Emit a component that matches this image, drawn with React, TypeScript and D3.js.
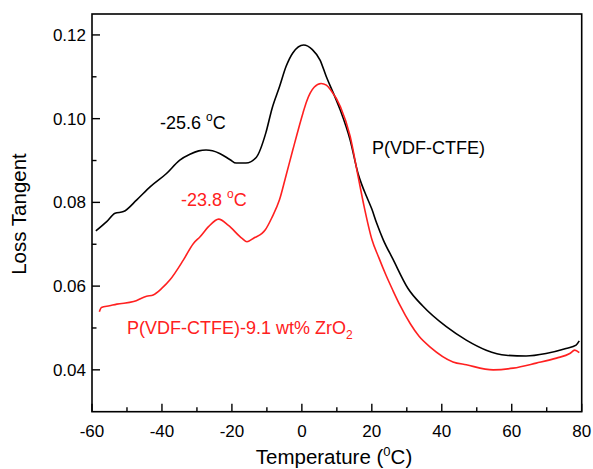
import React from "react";
import * as d3 from "d3";

// Data
const pureTemps = [-58.9, -55.8, -53.4, -51, -47.2, -43.4, -38.7, -34.9, -32, -29.5, -27.4, -23.5, -20.5, -18.8, -16, -13, -10.3, -8.5, -6.4, -4.5, -2.6, 0.5, 3, 5.2, 7, 9, 11, 13.8, 16.1, 17.1, 18.5, 20, 21.4, 23.3, 26, 30.3, 34.5, 41.3, 47, 52.7, 58.4, 64.1, 69.8, 75.5, 78.4, 79.3];
const pureValues = [0.0732, 0.0754, 0.0774, 0.0778, 0.0806, 0.0837, 0.0869, 0.0901, 0.0915, 0.0923, 0.0925, 0.0917, 0.0902, 0.0894, 0.0894, 0.0908, 0.0966, 0.1025, 0.1076, 0.1125, 0.1157, 0.1176, 0.1165, 0.114, 0.110, 0.1061, 0.102, 0.0949, 0.0868, 0.0843, 0.0814, 0.0784, 0.075, 0.071, 0.0665, 0.0595, 0.0553, 0.0503, 0.0471, 0.0447, 0.0435, 0.0433, 0.0439, 0.0451, 0.0459, 0.0469];

const compTemps = [-57.9, -57.3, -55, -52.9, -48.1, -44.4, -42.5, -40, -37.7, -33.9, -31, -29.1, -26.7, -23.8, -21, -17.1, -15.7, -13.5, -11.4, -10.5, -8.5, -6.4, -4.5, -2.6, 0.3, 1.3, 3.5, 5.5, 7, 8.3, 11, 13.8, 16.1, 17.8, 20, 22, 24, 26, 28, 31, 33.5, 36.6, 43.2, 47, 54.7, 60.4, 67, 72.8, 76.6, 78, 79.3];
const compValues = [0.0539, 0.0549, 0.0553, 0.0557, 0.0563, 0.0576, 0.0579, 0.0595, 0.0615, 0.0662, 0.0702, 0.0718, 0.0742, 0.076, 0.0745, 0.0714, 0.0706, 0.0716, 0.0726, 0.0734, 0.0765, 0.0806, 0.0865, 0.0925, 0.1013, 0.104, 0.1075, 0.1084, 0.108, 0.1068, 0.1029, 0.0958, 0.0861, 0.079, 0.0712, 0.0668, 0.0627, 0.059, 0.0555, 0.051, 0.048, 0.0455, 0.0419, 0.0412, 0.04, 0.0404, 0.0416, 0.0428, 0.0439, 0.0447, 0.0441];

const xTicks = [-60, -40, -20, 0, 20, 40, 60, 80];
const xMinorTicks = [-50, -30, -10, 10, 30, 50, 70];
const yTicks = [0.04, 0.06, 0.08, 0.1, 0.12];
const yMinorTicks = [0.05, 0.07, 0.09, 0.11];

const W = 593;
const H = 469;
const left = 92;
const right = 581.7;
const top = 14;
const bottom = 411.7;
const FONT = "'Liberation Sans', Arial, Helvetica, sans-serif";
const RED = "#ff2020";

export default function App() {
  const x = d3.scaleLinear().domain([-60, 80]).range([left, right]);
  const y = d3.scaleLinear().domain([0.03, 0.125]).range([bottom, top]);

  const line = d3
    .line<[number, number]>()
    .x((d) => x(d[0]))
    .y((d) => y(d[1]))
    .curve(d3.curveMonotoneX);

  const pure = pureTemps.map((t, i) => [t, pureValues[i]] as [number, number]);
  const comp = compTemps.map((t, i) => [t, compValues[i]] as [number, number]);

  return (
    <svg
      width={W}
      height={H}
      style={{ position: "fixed", left: 0, top: 0, background: "#fff" }}
      fontFamily={FONT}
    >
      <rect x={0} y={0} width={W} height={H} fill="#fff" />
      {/* curves */}
      <path d={line(pure) || ""} fill="none" stroke="#000" strokeWidth={1.6} />
      <path d={line(comp) || ""} fill="none" stroke={RED} strokeWidth={1.6} />

      {/* frame */}
      <rect x={left} y={top} width={right - left} height={bottom - top} fill="none" stroke="#000" strokeWidth={1.6} />

      {/* x ticks */}
      {xTicks.map((t) => (
        <g key={"xt" + t}>
          <line x1={x(t)} x2={x(t)} y1={bottom} y2={bottom - 8} stroke="#000" strokeWidth={1.4} />
          <text x={x(t)} y={437} textAnchor="middle" fontSize={17} fill="#000">
            {t}
          </text>
        </g>
      ))}
      {xMinorTicks.map((t) => (
        <line key={"xm" + t} x1={x(t)} x2={x(t)} y1={bottom} y2={bottom - 4.5} stroke="#000" strokeWidth={1.4} />
      ))}

      {/* y ticks */}
      {yTicks.map((t) => (
        <g key={"yt" + t}>
          <line x1={left} x2={left + 8} y1={y(t)} y2={y(t)} stroke="#000" strokeWidth={1.4} />
          <text x={86} y={y(t) + 6} textAnchor="end" fontSize={17} fill="#000">
            {t.toFixed(2)}
          </text>
        </g>
      ))}
      {yMinorTicks.map((t) => (
        <line key={"ym" + t} x1={left} x2={left + 4.5} y1={y(t)} y2={y(t)} stroke="#000" strokeWidth={1.4} />
      ))}

      {/* axis titles */}
      <text x={334} y={464} textAnchor="middle" fontSize={20.5} fill="#000">
        Temperature (
        <tspan fontSize={13} dy={-8}>0</tspan>
        <tspan dy={8}>C)</tspan>
      </text>
      <text
        transform={`translate(26,${214}) rotate(-90)`}
        textAnchor="middle"
        fontSize={20.5}
        fill="#000"
      >
        Loss Tangent
      </text>

      {/* annotations */}
      <text x={160} y={129} fontSize={18} fill="#000">
        -25.6
        <tspan fontSize={12} dx={5} dy={-8}>o</tspan>
        <tspan dy={8}>C</tspan>
      </text>
      <text x={181} y={206} fontSize={18} fill={RED}>
        -23.8
        <tspan fontSize={12} dx={5} dy={-8}>o</tspan>
        <tspan dy={8}>C</tspan>
      </text>
      <text x={372} y={154} fontSize={18} fill="#000">
        P(VDF-CTFE)
      </text>
      <text x={127} y={334} fontSize={18} fill={RED}>
        P(VDF-CTFE)-9.1 wt% ZrO
        <tspan fontSize={12} dy={5}>2</tspan>
      </text>
    </svg>
  );
}
